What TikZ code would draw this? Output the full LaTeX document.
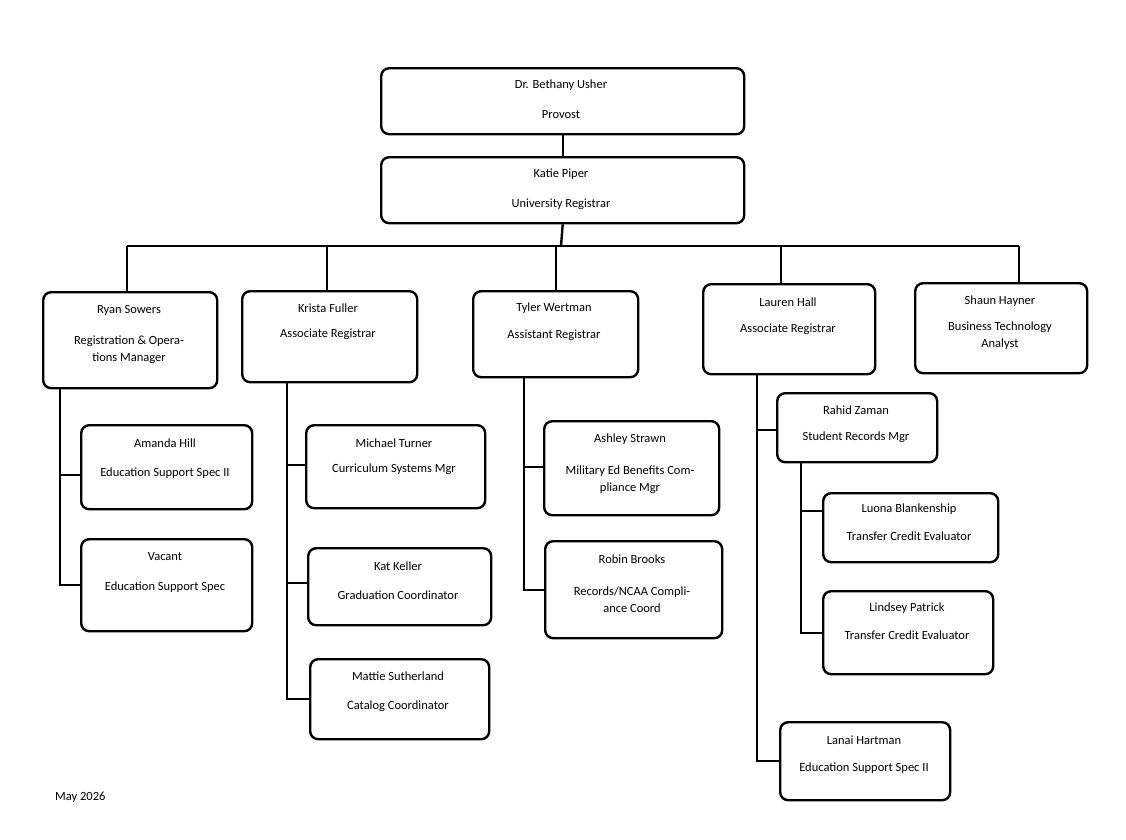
\documentclass[tikz,border=0pt]{standalone}
\usepackage{fontspec}
\setmainfont{Carlito}
\begin{document}
\begin{tikzpicture}[x=1pt,y=-1pt,
  box/.style={draw,line width=2.4pt,rounded corners=8pt,anchor=north west,inner sep=0pt},
  txt/.style={inner sep=0pt,align=center,font=\fontsize{12.5}{17}\selectfont},
  ln/.style={line width=2.4pt}]
\useasboundingbox (0,0) rectangle (1126,839);
\newcommand{\bx}[5]{\node[box,minimum width=#4pt-#2pt,minimum height=#5pt-#3pt] (#1) at (#2,#3) {};}
\newcommand{\tx}[4]{\node[txt] (#1) at (#2,#3) {#4};}
\bx{provost}{380}{67}{743}{133}
\tx{t1}{561}{85}{Dr. Bethany Usher}\tx{t2}{561}{115}{Provost}
\bx{piper}{380}{156}{743}{222}
\tx{t3}{561}{174}{Katie Piper}\tx{t4}{561}{204}{University Registrar}
\bx{sowers}{42}{291}{216}{387}
\tx{t5}{129}{310}{Ryan Sowers}\tx{t6}{129}{350}{Registration \& Opera-\\tions Manager}
\bx{fuller}{241}{290}{416}{381}
\tx{t7}{328}{308}{Krista Fuller}\tx{t8}{328}{334}{Associate Registrar}
\bx{wertman}{472}{290}{637}{376}
\tx{t9}{554}{308}{Tyler Wertman}\tx{t10}{554}{335}{Assistant Registrar}
\bx{hall}{702}{283}{874}{373}
\tx{t11}{788}{302}{Lauren Hall}\tx{t12}{788}{329}{Associate Registrar}
\bx{hayner}{914}{282}{1086}{372}
\tx{t13}{1000}{301}{Shaun Hayner}\tx{t14}{1000}{336}{Business Technology\\Analyst}
\bx{amanda}{80}{424}{251}{508}
\tx{t15}{165}{443}{Amanda Hill}\tx{t16}{165}{473}{Education Support Spec II}
\bx{vacant}{80}{538}{251}{630}
\tx{t17}{165}{557}{Vacant}\tx{t18}{165}{587}{Education Support Spec}
\bx{turner}{305}{424}{484}{507}
\tx{t19}{394}{443}{Michael Turner}\tx{t20}{394}{469}{Curriculum Systems Mgr}
\bx{keller}{307}{547}{490}{624}
\tx{t21}{398}{566}{Kat Keller}\tx{t22}{398}{595}{Graduation Coordinator}
\bx{suth}{309}{658}{488}{738}
\tx{t23}{398}{676}{Mattie Sutherland}\tx{t24}{398}{706}{Catalog Coordinator}
\bx{strawn}{543}{420}{718}{514}
\tx{t25}{630}{439}{Ashley Strawn}\tx{t26}{630}{480}{Military Ed Benefits Com-\\pliance Mgr}
\bx{brooks}{544}{540}{721}{637}
\tx{t27}{632}{559}{Robin Brooks}\tx{t28}{632}{600}{Records/NCAA Compli-\\ance Coord}
\bx{zaman}{776}{392}{936}{461}
\tx{t29}{856}{410}{Rahid Zaman}\tx{t30}{856}{437}{Student Records Mgr}
\bx{luona}{822}{492}{997}{561}
\tx{t31}{909}{509}{Luona Blankenship}\tx{t32}{909}{536}{Transfer Credit Evaluator}
\bx{lindsey}{822}{590}{992}{673}
\tx{t33}{907}{608}{Lindsey Patrick}\tx{t34}{907}{635}{Transfer Credit Evaluator}
\bx{lanai}{779}{721}{949}{799}
\tx{t35}{864}{740}{Lanai Hartman}\tx{t36}{864}{768}{Education Support Spec II}
\node[txt,anchor=west] (date) at (55,797) {May 2026};
% connectors
\coordinate (bus) at (561,246);
\draw[ln] (provost.south) -- (piper.north);
\draw[ln] (piper.south) -- (bus);
\draw[ln] (127,246) -- (1019,246);
\draw[ln] (127,246) -- (127,291);
\draw[ln] (327,246) -- (327,290);
\draw[ln] (556,246) -- (556,290);
\draw[ln] (781,246) -- (781,283);
\draw[ln] (1019,246) -- (1019,282);
\draw[ln] (60,387) |- (vacant.west);
\draw[ln] (60,475) -- (amanda.west |- 60,475);
\draw[ln] (287,381) |- (suth.west);
\draw[ln] (287,465) -- (turner.west |- 287,465);
\draw[ln] (287,583) -- (keller.west |- 287,583);
\draw[ln] (524,376) |- (brooks.west);
\draw[ln] (524,467) -- (strawn.west |- 524,467);
\draw[ln] (757,373) |- (lanai.west);
\draw[ln] (757,430) -- (zaman.west |- 757,430);
\draw[ln] (801,461) |- (lindsey.west);
\draw[ln] (801,511) -- (luona.west |- 801,511);
\end{tikzpicture}
\end{document}
